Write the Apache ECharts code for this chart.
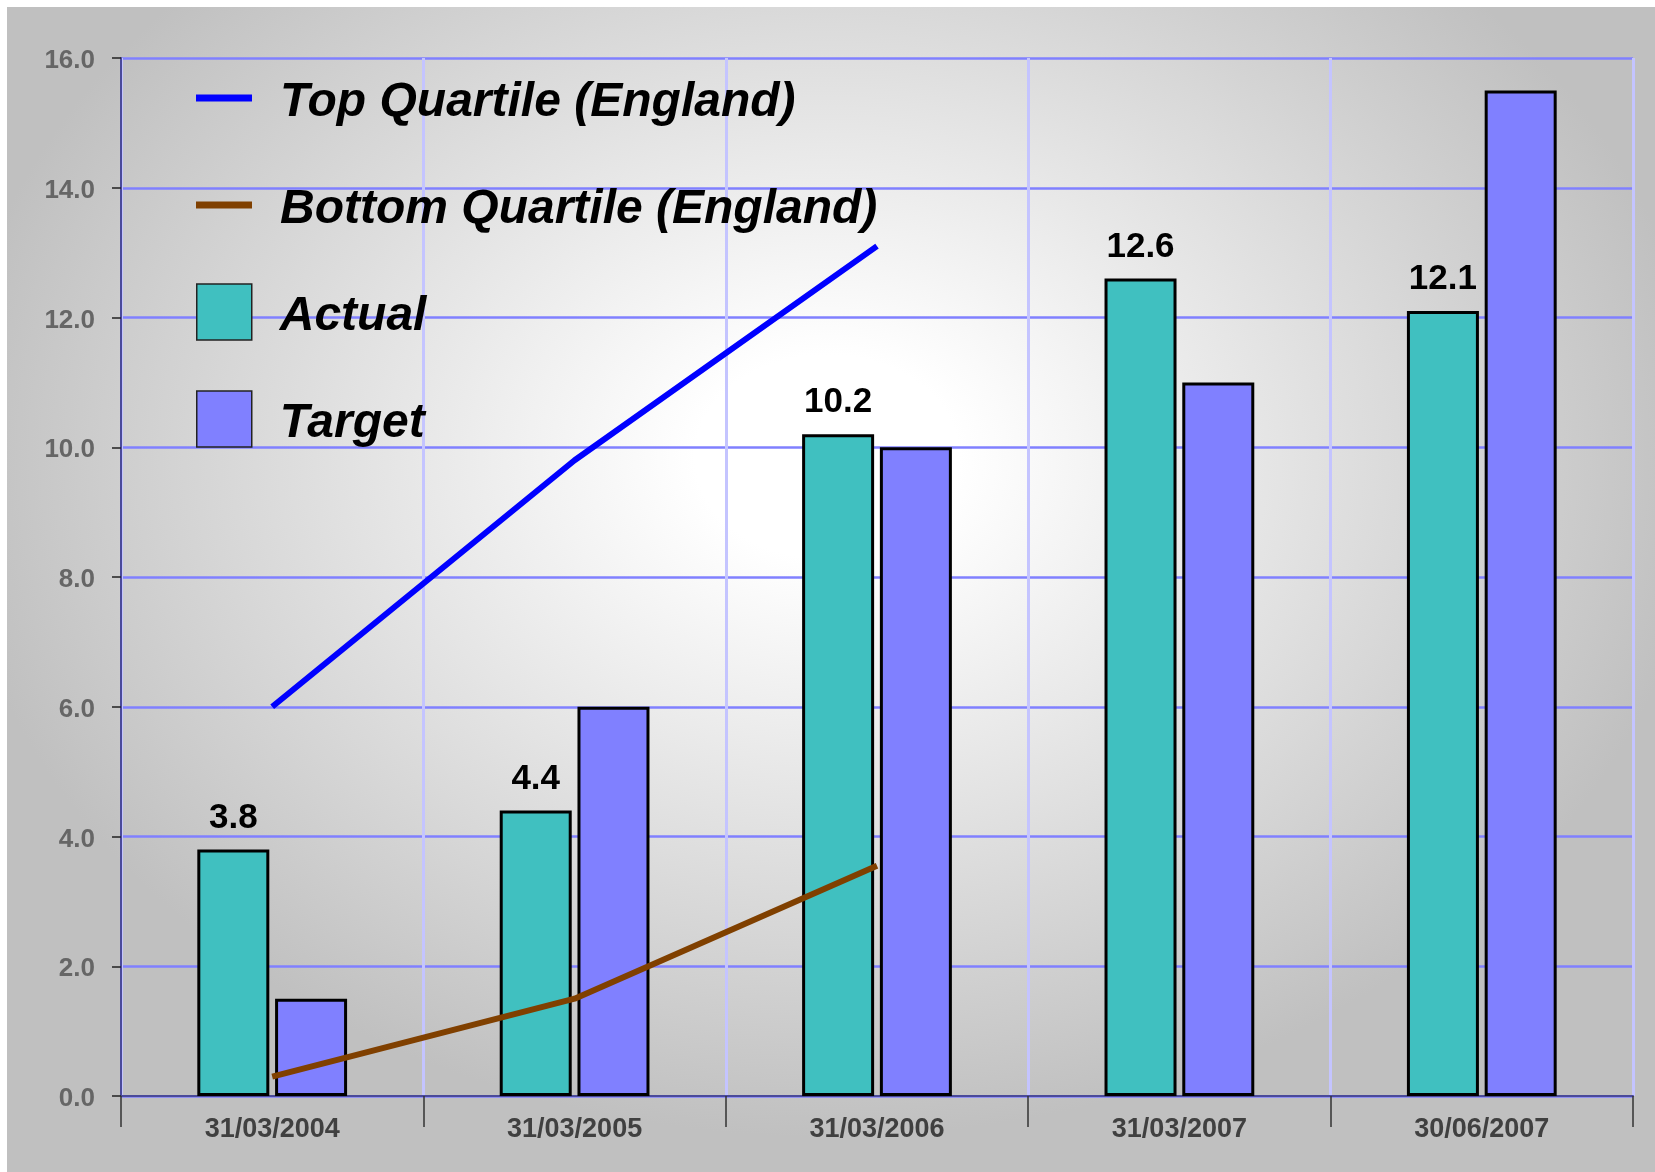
<!DOCTYPE html>
<html>
<head>
<meta charset="utf-8">
<script src="https://cdn.jsdelivr.net/npm/echarts@6/dist/echarts.min.js"></script>
<style>
  html, body { margin: 0; padding: 0; background: #ffffff; width: 1655px; height: 1172px; overflow: hidden; }
  #chart {
    position: absolute; left: 7px; top: 7px; width: 1648px; height: 1165px;
    background: radial-gradient(ellipse 880px 680px at 820px 450px, #ffffff 0%, #ffffff 15%, #c0c0c0 100%);
  }
</style>
</head>
<body>
<div id="chart"></div>
<script>
const categories = ['31/03/2004', '31/03/2005', '31/03/2006', '31/03/2007', '30/06/2007'];
const actualValues = [3.8, 4.4, 10.2, 12.6, 12.1];
const targetValues = [1.5, 6.0, 10.0, 11.0, 15.5];
const topQuartileValues = [6.0, 9.8, 13.1, null, null];
const bottomQuartileValues = [0.3, 1.5, 3.55, null, null];
const yMin = 0, yMax = 16, yInterval = 2;

const FONT = 'Liberation Sans, Arial, sans-serif';
const legendText = {
  fontSize: 48, fontWeight: 'bold', fontStyle: 'italic', fontFamily: FONT,
  color: '#000000', lineHeight: 56,
  rich: {
    t: {
      fontSize: 48, fontWeight: 'bold', fontStyle: 'italic', fontFamily: FONT,
      color: '#000000', lineHeight: 56, padding: [10, 0, 0, 23]
    }
  }
};
function lineLegend(name, top) {
  return {
    data: [name], left: 189, top: top, padding: 0, selectedMode: false,
    icon: 'rect', itemWidth: 56, itemHeight: 7,
    itemStyle: { borderWidth: 0 },
    formatter: '{t|{name}}',
    textStyle: legendText
  };
}
function barLegend(name, top) {
  return {
    data: [name], left: 189, top: top, padding: 0, selectedMode: false,
    icon: 'rect', itemWidth: 55, itemHeight: 56,
    itemStyle: { borderColor: '#222222', borderWidth: 1.5 },
    formatter: '{t|{name}}',
    textStyle: legendText
  };
}

const chart = echarts.init(document.getElementById('chart'), null, { renderer: 'canvas' });
chart.setOption({
  backgroundColor: 'transparent',
  animation: false,
  grid: { left: 114, right: 22, top: 51, bottom: 76, containLabel: false },
  legend: [
    lineLegend('Top Quartile (England)', 62),
    lineLegend('Bottom Quartile (England)', 169),
    barLegend('Actual', 276),
    barLegend('Target', 383)
  ],
  xAxis: {
    type: 'category',
    data: categories,
    boundaryGap: true,
    axisLine: { show: true, lineStyle: { color: '#4a4a9a', width: 2 } },
    axisTick: { show: true, length: 31, alignWithLabel: false, lineStyle: { color: '#333333', width: 1.5 } },
    axisLabel: { color: '#404040', fontSize: 27, fontWeight: 'bold', fontFamily: FONT, margin: 20 },
    splitLine: { show: true, lineStyle: { color: '#c4c4ff', width: 3 } }
  },
  yAxis: {
    type: 'value',
    min: yMin, max: yMax, interval: yInterval,
    axisLine: { show: true, lineStyle: { color: '#4a4a9a', width: 2 } },
    axisTick: { show: true, length: 9, lineStyle: { color: '#222222', width: 1.5 } },
    axisLabel: {
      color: '#666666', fontSize: 26, fontWeight: 'bold', fontFamily: FONT, margin: 26,
      verticalAlign: 'top', lineHeight: 6,
      formatter: v => v.toFixed(1)
    },
    splitLine: { show: true, lineStyle: { color: '#8080ff', width: 2.5 } }
  },
  series: [
    {
      name: 'Actual', type: 'bar', data: actualValues,
      barWidth: 72, barGap: '8%',
      itemStyle: { color: '#40c0c0', borderColor: '#000000', borderWidth: 3 },
      label: {
        show: true, position: 'top', distance: 14,
        color: '#000000', fontSize: 35, fontWeight: 'bold', fontFamily: FONT, lineHeight: 35,
        formatter: p => p.value.toFixed(1)
      },
      z: 2
    },
    {
      name: 'Target', type: 'bar', data: targetValues,
      barWidth: 72, barGap: '8%',
      itemStyle: { color: '#8080ff', borderColor: '#000000', borderWidth: 3 },
      z: 2
    },
    {
      name: 'Top Quartile (England)', type: 'line', data: topQuartileValues,
      symbol: 'none', showSymbol: false,
      lineStyle: { color: '#0000ff', width: 6 },
      itemStyle: { color: '#0000ff' },
      z: 4
    },
    {
      name: 'Bottom Quartile (England)', type: 'line', data: bottomQuartileValues,
      symbol: 'none', showSymbol: false,
      lineStyle: { color: '#804000', width: 6 },
      itemStyle: { color: '#804000' },
      z: 4
    }
  ]
});
</script>
</body>
</html>
